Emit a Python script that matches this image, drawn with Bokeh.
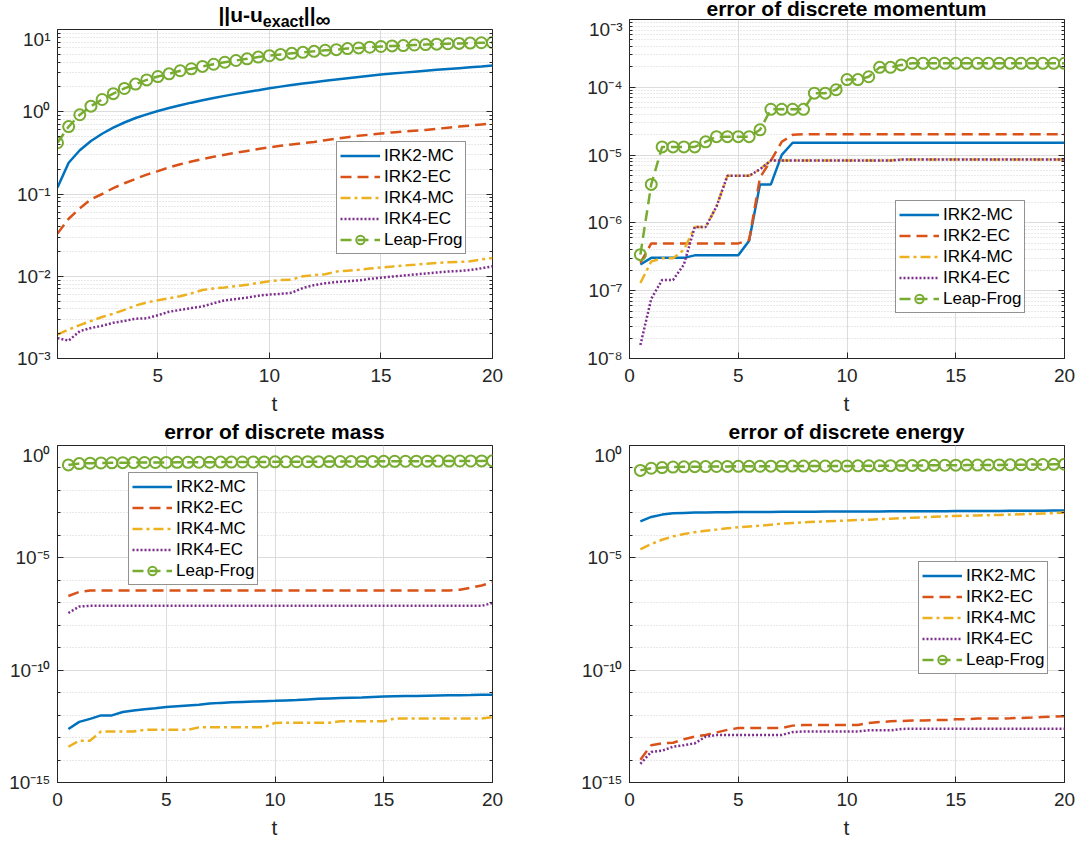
from bokeh.plotting import figure
from bokeh.layouts import column, row
from bokeh.models import (FixedTicker, CustomJSTickFormatter, Legend, LegendItem,
                          Range1d, LogAxis, Div)
from bokeh.embed import file_html
from bokeh.resources import INLINE

# ---------------- data ----------------
t = [0.5, 1.0, 1.5, 2.0, 2.5, 3.0, 3.5, 4.0, 4.5, 5.0,
     5.5, 6.0, 6.5, 7.0, 7.5, 8.0, 8.5, 9.0, 9.5, 10.0,
     10.5, 11.0, 11.5, 12.0, 12.5, 13.0, 13.5, 14.0, 14.5, 15.0,
     15.5, 16.0, 16.5, 17.0, 17.5, 18.0, 18.5, 19.0, 19.5, 20.0]

series_names = ["IRK2-MC", "IRK2-EC", "IRK4-MC", "IRK4-EC", "Leap-Frog"]
titles = ["error of discrete momentum", "error of discrete mass", "error of discrete energy"]
x_label = "t"

# panel 1: ||u - u_exact||_inf
err_irk2_mc = [0.12, 0.24, 0.34, 0.44, 0.54, 0.64, 0.74, 0.84, 0.93, 1.02,
               1.11, 1.20, 1.29, 1.38, 1.47, 1.56, 1.65, 1.74, 1.83, 1.93,
               2.02, 2.11, 2.20, 2.29, 2.38, 2.47, 2.56, 2.65, 2.74, 2.83,
               2.91, 2.99, 3.07, 3.15, 3.23, 3.31, 3.39, 3.47, 3.55, 3.65]
err_irk2_ec = [0.033, 0.050, 0.067, 0.086, 0.100, 0.118, 0.135, 0.153, 0.172, 0.190,
               0.210, 0.230, 0.248, 0.266, 0.283, 0.300, 0.317, 0.334, 0.352, 0.370,
               0.385, 0.400, 0.415, 0.430, 0.450, 0.470, 0.490, 0.510, 0.527, 0.545,
               0.560, 0.573, 0.587, 0.600, 0.620, 0.640, 0.660, 0.680, 0.700, 0.720]
err_irk4_mc = [0.00195, 0.00225, 0.00255, 0.00286, 0.0032, 0.0035, 0.0039, 0.0044, 0.0048, 0.0051,
               0.0054, 0.0057, 0.0062, 0.0068, 0.0071, 0.0073, 0.0076, 0.0079, 0.0083, 0.0087,
               0.0090, 0.0091, 0.0100, 0.0103, 0.0106, 0.0114, 0.0117, 0.0120, 0.0124, 0.0128,
               0.0131, 0.0135, 0.0138, 0.0142, 0.0145, 0.0148, 0.0149, 0.0152, 0.0160, 0.0167]
err_irk4_ec = [0.00177, 0.00165, 0.00215, 0.00235, 0.0025, 0.00272, 0.00286, 0.00305, 0.00308, 0.00336,
               0.0037, 0.0039, 0.0041, 0.0043, 0.0047, 0.0051, 0.0053, 0.0055, 0.0058, 0.0060,
               0.0061, 0.0063, 0.0072, 0.0078, 0.0082, 0.0085, 0.0087, 0.0089, 0.0093, 0.0096,
               0.0099, 0.0102, 0.0105, 0.0108, 0.0111, 0.0114, 0.0116, 0.0119, 0.0125, 0.0132]
err_leapfrog = [0.42, 0.66, 0.92, 1.17, 1.41, 1.66, 1.92, 2.17, 2.44, 2.68,
                2.89, 3.15, 3.33, 3.56, 3.78, 4.00, 4.20, 4.40, 4.62, 4.80,
                4.98, 5.13, 5.28, 5.43, 5.59, 5.69, 5.86, 5.97, 6.09, 6.21,
                6.32, 6.38, 6.48, 6.56, 6.64, 6.72, 6.78, 6.84, 6.90, 6.95]

# panel 2: error of discrete momentum
mom_irk2_mc = ([2.43e-7, 3.05e-7, 3.05e-7, 3.05e-7, 3.05e-7, 3.32e-7, 3.32e-7, 3.32e-7, 3.32e-7, 3.32e-7,
                5.46e-7, 3.7e-6, 3.7e-6, 1.01e-5, 1.52e-5] + [1.52e-5] * 25)
mom_irk2_ec = ([2.57e-7] + [4.98e-7] * 9 +
               [5.58e-7, 4.67e-6, 8.3e-6, 1.57e-5, 1.99e-5] + [2.03e-5] * 25)
mom_irk4_mc = ([1.3e-7, 2.7e-7, 3.0e-7, 3.0e-7, 4.0e-7, 8.7e-7, 8.7e-7, 1.74e-6, 4.94e-6, 4.94e-6,
                4.94e-6, 6.2e-6, 8.3e-6] + [8.3e-6] * 11 + [8.6e-6] * 16)
mom_irk4_ec = ([1.58e-8, 7.6e-8, 1.44e-7, 1.44e-7, 2.43e-7, 8.7e-7, 8.7e-7, 1.74e-6, 4.94e-6, 4.94e-6,
                4.94e-6, 6.2e-6, 8.3e-6] + [8.3e-6] * 11 + [8.6e-6] * 16)
mom_leapfrog = ([3.4e-7, 3.7e-6, 1.32e-5, 1.32e-5, 1.32e-5, 1.32e-5, 1.57e-5, 1.87e-5, 1.87e-5, 1.87e-5,
                 1.87e-5, 2.36e-5, 4.74e-5, 4.74e-5, 4.74e-5, 4.74e-5, 8.2e-5, 8.2e-5, 9.2e-5, 1.3e-4,
                 1.3e-4, 1.43e-4, 1.97e-4, 1.97e-4, 2.14e-4] + [2.26e-4] * 15)

# panel 3: error of discrete mass
mass_irk2_mc = [2.4e-13, 5.0e-13, 6.8e-13, 9.7e-13, 9.7e-13, 1.38e-12, 1.6e-12, 1.8e-12, 2.0e-12, 2.3e-12,
                2.5e-12, 2.7e-12, 2.9e-12, 3.3e-12, 3.5e-12, 3.7e-12, 3.85e-12, 4.0e-12, 4.15e-12, 4.3e-12,
                4.5e-12, 4.7e-12, 5.0e-12, 5.3e-12, 5.5e-12, 5.7e-12, 5.85e-12, 6.0e-12, 6.4e-12, 6.8e-12,
                6.9e-12, 7.0e-12, 7.1e-12, 7.3e-12, 7.5e-12, 7.6e-12, 7.7e-12, 7.8e-12, 7.95e-12, 8.1e-12]
mass_irk2_ec = [2.0e-7, 3.05e-7] + [3.5e-7] * 34 + [3.8e-7, 4.7e-7, 5.9e-7, 8.1e-7]
mass_irk4_mc = ([3.9e-14, 7.3e-14, 7.3e-14, 1.87e-13, 1.87e-13, 1.87e-13, 1.87e-13, 2.2e-13, 2.2e-13, 2.2e-13,
                 2.2e-13, 2.2e-13, 2.85e-13, 2.85e-13, 2.85e-13, 2.85e-13, 2.85e-13, 2.85e-13, 2.85e-13, 4.5e-13,
                 4.6e-13, 4.6e-13, 4.6e-13, 4.6e-13, 4.6e-13, 5.3e-13, 5.3e-13, 5.3e-13, 5.3e-13, 5.3e-13]
                + [7.1e-13] * 9 + [8.1e-13])
mass_irk4_ec = [3.5e-8, 6.8e-8] + [7.3e-8] * 37 + [9.7e-8]
mass_leapfrog = [0.137, 0.157, 0.163, 0.167, 0.170, 0.172, 0.173, 0.175, 0.176, 0.177,
                 0.178, 0.179, 0.180, 0.180, 0.182, 0.183, 0.184, 0.185, 0.186, 0.187,
                 0.188, 0.189, 0.190, 0.191, 0.192, 0.193, 0.194, 0.195, 0.196, 0.197,
                 0.198, 0.199, 0.200, 0.201, 0.202, 0.203, 0.204, 0.205, 0.206, 0.208]

# panel 4: error of discrete energy
en_irk2_mc = [4.2e-4, 6.6e-4, 8.4e-4, 9.6e-4, 1.0e-3, 1.03e-3, 1.05e-3, 1.07e-3, 1.08e-3, 1.10e-3,
              1.10e-3, 1.11e-3, 1.11e-3, 1.12e-3, 1.12e-3, 1.13e-3, 1.13e-3, 1.14e-3, 1.14e-3, 1.15e-3,
              1.15e-3, 1.16e-3, 1.16e-3, 1.17e-3, 1.17e-3, 1.18e-3, 1.18e-3, 1.19e-3, 1.19e-3, 1.20e-3,
              1.21e-3, 1.22e-3, 1.22e-3, 1.23e-3, 1.24e-3, 1.25e-3, 1.25e-3, 1.26e-3, 1.27e-3, 1.28e-3]
en_irk2_ec = ([1.04e-14, 4.6e-14, 5.5e-14, 5.9e-14, 8.4e-14, 1.1e-13, 1.3e-13, 1.7e-13, 2.2e-13, 2.65e-13,
               2.65e-13, 2.65e-13, 2.65e-13, 2.65e-13, 3.4e-13] + [3.6e-13] * 6 +
              [4.5e-13, 4.9e-13, 5.3e-13, 5.5e-13, 5.7e-13, 5.7e-13, 6.0e-13, 6.0e-13, 6.5e-13,
               6.5e-13, 7.0e-13, 7.0e-13, 7.0e-13, 7.2e-13, 7.5e-13, 7.8e-13, 8.2e-13, 8.6e-13, 9.0e-13])
en_irk4_mc = [2.4e-5, 4.1e-5, 6.4e-5, 9.0e-5, 1.15e-4, 1.37e-4, 1.6e-4, 1.8e-4, 2.05e-4, 2.3e-4,
              2.5e-4, 2.7e-4, 3.0e-4, 3.3e-4, 3.55e-4, 3.8e-4, 4.0e-4, 4.2e-4, 4.4e-4, 4.6e-4,
              4.8e-4, 5.0e-4, 5.25e-4, 5.5e-4, 5.8e-4, 6.1e-4, 6.4e-4, 6.7e-4, 7.0e-4, 7.3e-4,
              7.5e-4, 7.7e-4, 7.9e-4, 8.1e-4, 8.4e-4, 8.7e-4, 9.0e-4, 9.4e-4, 9.8e-4, 1.03e-3]
en_irk4_ec = ([6.8e-15, 2.3e-14, 2.6e-14, 3.9e-14, 4.6e-14, 5.5e-14, 1.1e-13, 1.3e-13] + [1.3e-13] * 6 +
              [1.75e-13] + [1.87e-13] * 6 + [2.1e-13, 2.1e-13, 2.1e-13, 2.4e-13] + [2.5e-13] * 15)
en_leapfrog = [0.078, 0.097, 0.104, 0.110, 0.112, 0.114, 0.115, 0.116, 0.117, 0.118,
               0.118, 0.119, 0.120, 0.120, 0.121, 0.121, 0.122, 0.122, 0.123, 0.123,
               0.124, 0.125, 0.126, 0.127, 0.128, 0.129, 0.130, 0.131, 0.132, 0.133,
               0.134, 0.135, 0.136, 0.137, 0.138, 0.140, 0.141, 0.143, 0.145, 0.147]

# ticks
x_ticks_p1 = [5, 10, 15, 20]
x_ticks = [0, 5, 10, 15, 20]
y_ticks_p1 = [1e-3, 1e-2, 1e-1, 1e0, 1e1]
y_labels_p1 = ["10\u207b\u00b3", "10\u207b\u00b2", "10\u207b\u00b9", "10\u2070", "10\u00b9"]
y_ticks_p2 = [1e-8, 1e-7, 1e-6, 1e-5, 1e-4, 1e-3]
y_labels_p2 = ["10\u207b\u2078", "10\u207b\u2077", "10\u207b\u2076", "10\u207b\u2075", "10\u207b\u2074", "10\u207b\u00b3"]
y_ticks_low = [1e-15, 1e-10, 1e-5, 1e0]
y_labels_low = ["10\u207b\u00b9\u2075", "10\u207b\u00b9\u2070", "10\u207b\u2075", "10\u2070"]

# ---------------- style ----------------
FONT = "Liberation Sans"
AX = "#262626"
COLORS = ["#0072BD", "#D95319", "#EDB120", "#7E2F8E", "#77AC30"]
DASHES = ["solid", "11 6", "10 4 3 4", "2 2", "11 6"]
FW = 435


def minor_log(lo, hi):
    out = []
    for e in range(lo, hi):
        for m in range(2, 10):
            out.append(m * 10.0 ** e)
    return out


def decade_minor(lo, hi):
    return [10.0 ** e for e in range(lo, hi + 1) if e % 5 != 0]


def make_panel(W, H, bl, bb, xr, xt, yr, yt, ylab, ymin, ys, leg_xy, label_standoff=10):
    br = W - bl - FW
    p = figure(width=W, height=H, x_range=Range1d(*xr), y_range=Range1d(*yr),
               y_axis_type="log", output_backend="svg", toolbar_location=None,
               min_border_left=bl, min_border_right=br, min_border_top=1,
               min_border_bottom=bb, background_fill_color="white",
               border_fill_color="white")
    p.outline_line_color = AX
    p.outline_line_width = 1
    p.outline_line_alpha = 1

    xtk = FixedTicker(ticks=xt)
    ytk = FixedTicker(ticks=yt, minor_ticks=ymin)
    p.xaxis.ticker = xtk
    p.yaxis.ticker = ytk
    p.xgrid.ticker = xtk
    p.ygrid.ticker = ytk
    p.yaxis.formatter = CustomJSTickFormatter(args=dict(tvals=yt, tlabels=ylab), code="""
        let best = 0, bd = Infinity;
        for (let i = 0; i < tvals.length; i++) {
            const d = Math.abs(Math.log10(tvals[i]) - Math.log10(tick));
            if (d < bd) { bd = d; best = i; }
        }
        return tlabels[best];
    """)

    for ax in (p.xaxis, p.yaxis):
        ax.axis_line_color = AX
        ax.major_tick_line_color = AX
        ax.minor_tick_line_color = AX
        ax.major_tick_in = 6
        ax.major_tick_out = 0
        ax.minor_tick_in = 3
        ax.minor_tick_out = 0
        ax.major_label_text_font = FONT
        ax.major_label_text_font_size = "19px"
        ax.major_label_text_color = AX
    p.xaxis.minor_tick_line_color = None
    p.xaxis.major_label_standoff = label_standoff
    p.yaxis.major_label_standoff = 7

    # box ticks on the right edge
    empty = CustomJSTickFormatter(code="return '';")
    ra = LogAxis(ticker=ytk, formatter=empty, axis_line_color=None,
                 major_tick_line_color=AX, minor_tick_line_color=AX,
                 major_tick_in=6, major_tick_out=0, minor_tick_in=3, minor_tick_out=0,
                 major_label_standoff=0, major_label_text_font_size="1px")
    p.add_layout(ra, "right")

    p.xgrid.grid_line_color = "#dcdcdc"
    p.ygrid.grid_line_color = "#dcdcdc"
    p.ygrid.minor_grid_line_color = "#d2d2d2"
    p.ygrid.minor_grid_line_dash = "1 2"
    p.ygrid.minor_grid_line_width = 1

    items = []
    for i, (name, y) in enumerate(zip(series_names, ys)):
        r = p.line(t, y, line_color=COLORS[i], line_width=2.5, line_dash=DASHES[i])
        rs = [r]
        if name == "Leap-Frog":
            s = p.scatter(t, y, marker="circle", size=11, fill_color=None,
                          line_color=COLORS[i], line_width=2)
            rs.append(s)
        items.append(LegendItem(label=name, renderers=rs))

    leg = Legend(items=items, location=leg_xy, padding=3, spacing=0, margin=0,
                 glyph_width=40, glyph_height=21, label_height=21, label_standoff=4,
                 label_text_font=FONT, label_text_font_size="17px", label_text_color="black",
                 border_line_color=AX, border_line_width=1, background_fill_color="white",
                 background_fill_alpha=1)
    p.add_layout(leg)
    return p


def text_div(W, h, left, inner_html, top, bold=True, color="#000", lh=24):
    html = ('<div style="width:435px;margin-left:%dpx;margin-top:%dpx;text-align:center;'
            'font-family:\'Liberation Sans\',Arial,sans-serif;font-weight:%s;font-size:21px;'
            'line-height:%dpx;color:%s;white-space:nowrap;">%s</div>'
            % (left, top, "bold" if bold else "normal", lh, color, inner_html))
    return Div(text=html, width=W, height=h, margin=0)


SUB = '<span style="font-size:16px;position:relative;top:5px;">%s</span>'

# ---- row 1 (y 0..420): frames ~37..358 (left) and ~27..358 (right) ----
t1 = text_div(548, 28, 57, "||u-u" + SUB % "exact" + "||" +
              '<span style="position:relative;top:5px;">\u221e</span>', 3, lh=24)
p1 = make_panel(548, 365, 57, 35, (0.5, 20), x_ticks_p1, (1e-3, 1e1),
                y_ticks_p1, y_labels_p1, minor_log(-3, 1),
                [err_irk2_mc, err_irk2_ec, err_irk4_mc, err_irk4_ec, err_leapfrog], (279, 104))
x1 = text_div(548, 27, 57, x_label, 1, bold=False, color=AX, lh=20)

t2 = text_div(528, 18, 81, titles[0], 0, lh=18)
p2 = make_panel(528, 375, 81, 35, (0, 20), x_ticks, (1e-8, 1e-3),
                y_ticks_p2, y_labels_p2, minor_log(-8, -3),
                [mom_irk2_mc, mom_irk2_ec, mom_irk4_mc, mom_irk4_ec, mom_leapfrog], (266, 45))
x2 = text_div(528, 27, 81, x_label, 1, bold=False, color=AX, lh=20)

# ---- row 2 (y 420..840): frames ~453..782 ----
t3 = text_div(548, 24, 57, titles[1], 0, lh=24)
p3 = make_panel(548, 373, 57, 35, (0, 20), x_ticks, (1e-15, 1e0),
                y_ticks_low, y_labels_low, decade_minor(-15, 0),
                [mass_irk2_mc, mass_irk2_ec, mass_irk4_mc, mass_irk4_ec, mass_leapfrog], (71, 197))
x3 = text_div(548, 23, 57, x_label, 1, bold=False, color=AX, lh=20)

t4 = text_div(528, 24, 81, titles[2], 0, lh=24)
p4 = make_panel(528, 373, 81, 35, (0, 20), x_ticks, (1e-15, 1e0),
                y_ticks_low, y_labels_low, decade_minor(-15, 0),
                [en_irk2_mc, en_irk2_ec, en_irk4_mc, en_irk4_ec, en_leapfrog], (289, 108))
x4 = text_div(528, 23, 81, x_label, 1, bold=False, color=AX, lh=20)

layout = column(row(column(t1, p1, x1, spacing=0), column(t2, p2, x2, spacing=0), spacing=0),
                row(column(t3, p3, x3, spacing=0), column(t4, p4, x4, spacing=0), spacing=0),
                spacing=0)
open("out.html", "w").write(file_html(layout, INLINE))
